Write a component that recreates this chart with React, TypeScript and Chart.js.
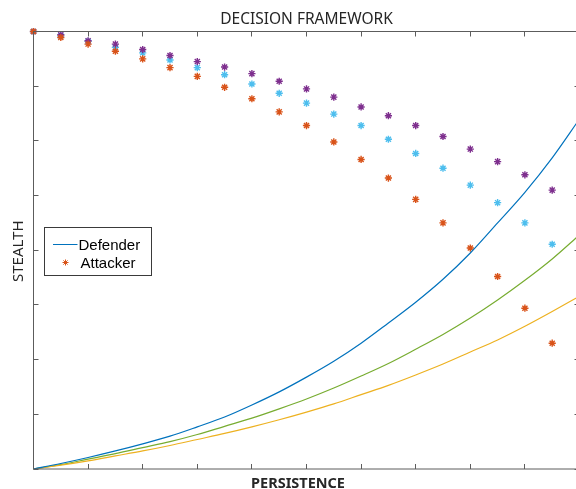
import { useEffect, useRef } from "react";
import { Chart, registerables } from "chart.js";

Chart.register(...registerables);

// ---- data ----
const persistence = [0, 1, 2, 3, 4, 5, 6, 7, 8, 9, 10, 11, 12, 13, 14, 15, 16, 17, 18, 19, 20];
const defenderBlue = [0, 0.10, 0.21, 0.33, 0.46, 0.60, 0.77, 0.95, 1.17, 1.41, 1.68, 1.97, 2.30, 2.67, 3.05, 3.47, 3.95, 4.50, 5.06, 5.69, 6.40];
const defenderGreen = [0, 0.08, 0.18, 0.28, 0.39, 0.50, 0.63, 0.78, 0.93, 1.10, 1.28, 1.48, 1.70, 1.93, 2.19, 2.46, 2.76, 3.09, 3.45, 3.84, 4.28];
const defenderYellow = [0, 0.07, 0.15, 0.24, 0.33, 0.43, 0.54, 0.65, 0.77, 0.90, 1.04, 1.19, 1.36, 1.53, 1.72, 1.92, 2.14, 2.36, 2.61, 2.88, 3.16];

const markerPersistence = [0, 1, 2, 3, 4, 5, 6, 7, 8, 9, 10, 11, 12, 13, 14, 15, 16, 17, 18, 19];
const attackerOrange = [8.00, 7.89, 7.77, 7.64, 7.50, 7.34, 7.18, 6.98, 6.77, 6.53, 6.28, 5.98, 5.66, 5.32, 4.93, 4.50, 4.04, 3.52, 2.94, 2.30];
const attackerPurple = [8.00, 7.94, 7.83, 7.77, 7.67, 7.56, 7.45, 7.35, 7.23, 7.09, 6.95, 6.80, 6.62, 6.46, 6.28, 6.08, 5.85, 5.62, 5.38, 5.10];
const attackerCyan = [8.00, 7.92, 7.82, 7.71, 7.61, 7.48, 7.34, 7.21, 7.04, 6.87, 6.69, 6.49, 6.28, 6.03, 5.77, 5.50, 5.19, 4.87, 4.50, 4.11];

const xTicks = [0, 2, 4, 6, 8, 10, 12, 14, 16, 18, 20];
const yTicks = [0, 1, 2, 3, 4, 5, 6, 7, 8];

const TITLE = "DECISION FRAMEWORK";
const X_LABEL = "PERSISTENCE";
const Y_LABEL = "STEALTH";
const LEGEND_LABELS = ["Defender", "Attacker"];

const BLUE = "#0072BD";
const ORANGE = "#D95319";
const YELLOW = "#EDB120";
const PURPLE = "#7E2F8E";
const GREEN = "#77AC30";
const CYAN = "#4DBEEE";

const toXY = (xs: number[], ys: number[]) => ys.map((v, i) => ({ x: xs[i], y: v }));

const snap = (v: number) => Math.round(v - 0.5) + 0.5;

const framePlugin = {
  id: "matlabFrame",
  afterDatasetsDraw(chart: any) {
    const { ctx, chartArea: a, scales } = chart;
    const xs = scales.x;
    const ys = scales.y;
    ctx.save();
    ctx.strokeStyle = "#5c5c5c";
    ctx.lineWidth = 1;
    ctx.beginPath();
    ctx.rect(a.left, a.top, a.right - a.left, a.bottom - a.top);
    ctx.stroke();
    const tl = 5;
    ctx.beginPath();
    xTicks.forEach((t) => {
      const px = snap(xs.getPixelForValue(t));
      ctx.moveTo(px, a.bottom);
      ctx.lineTo(px, a.bottom - tl);
      ctx.moveTo(px, a.top);
      ctx.lineTo(px, a.top + tl);
    });
    yTicks.forEach((t) => {
      const py = snap(ys.getPixelForValue(t));
      ctx.moveTo(a.left, py);
      ctx.lineTo(a.left + tl, py);
      ctx.moveTo(a.right, py);
      ctx.lineTo(a.right - tl, py);
    });
    ctx.stroke();

    // texts
    const cx = (a.left + a.right) / 2;
    const cy = (a.top + a.bottom) / 2;
    ctx.fillStyle = "#262626";
    ctx.textAlign = "center";
    ctx.textBaseline = "alphabetic";
    ctx.font = '15.5px "Noto Sans"';
    ctx.fillText(TITLE, cx, 24);
    ctx.font = 'bold 14.5px "Noto Sans"';
    ctx.fillText(X_LABEL, 298, 488);
    ctx.save();
    ctx.translate(23, cy + 1);
    ctx.rotate(-Math.PI / 2);
    ctx.font = '15px "Noto Sans"';
    ctx.fillText(Y_LABEL, 0, 0);
    ctx.restore();

    // legend
    const lx = 44.5, ly = 227.5, lw = 107, lh = 48;
    ctx.fillStyle = "#ffffff";
    ctx.fillRect(lx, ly, lw, lh);
    ctx.strokeStyle = "#3a3a3a";
    ctx.lineWidth = 1;
    ctx.strokeRect(lx, ly, lw, lh);
    ctx.strokeStyle = BLUE;
    ctx.lineWidth = 1;
    ctx.beginPath();
    ctx.moveTo(53, 244.5);
    ctx.lineTo(77.5, 244.5);
    ctx.stroke();
    // asterisk marker
    const mx = 65.5, my = 262.5, r = 3;
    ctx.strokeStyle = ORANGE;
    ctx.beginPath();
    ctx.moveTo(mx - r, my); ctx.lineTo(mx + r, my);
    ctx.moveTo(mx, my - r); ctx.lineTo(mx, my + r);
    const d = r * 0.7;
    ctx.moveTo(mx - d, my - d); ctx.lineTo(mx + d, my + d);
    ctx.moveTo(mx - d, my + d); ctx.lineTo(mx + d, my - d);
    ctx.stroke();
    ctx.fillStyle = "#000000";
    ctx.textAlign = "left";
    ctx.font = '15px "Liberation Sans"';
    ctx.fillText(LEGEND_LABELS[0], 78.5, 249.5);
    ctx.fillText(LEGEND_LABELS[1], 80.5, 267.5);
    ctx.restore();
  },
};

export default function App() {
  const ref = useRef<HTMLCanvasElement | null>(null);
  useEffect(() => {
    if (!ref.current) return;
    const lineDs = (label: string, data: number[], color: string) => ({
      type: "line" as const,
      label,
      data: toXY(persistence, data),
      borderColor: color,
      backgroundColor: color,
      borderWidth: 1.2,
      pointRadius: 0,
      fill: false,
      cubicInterpolationMode: "monotone" as const,
      clip: false as any,
    });
    const markerDs = (label: string, data: number[], color: string) => ({
      type: "scatter" as const,
      label,
      data: toXY(markerPersistence, data),
      borderColor: color,
      backgroundColor: color,
      pointStyle: "star" as const,
      pointRadius: 3.6,
      pointBorderWidth: 1.4,
      showLine: false,
      clip: false as any,
    });
    const chart = new Chart(ref.current, {
      type: "scatter",
      data: {
        datasets: [
          lineDs("Defender", defenderBlue, BLUE),
          markerDs("Attacker", attackerOrange, ORANGE),
          lineDs("Defender 2", defenderYellow, YELLOW),
          markerDs("Attacker 2", attackerPurple, PURPLE),
          lineDs("Defender 3", defenderGreen, GREEN),
          markerDs("Attacker 3", attackerCyan, CYAN),
        ] as any,
      },
      options: {
        animation: false,
        responsive: false,
        devicePixelRatio: 1,
        layout: { padding: { left: 33.5, top: 31.5, right: 10.5, bottom: 20 } },
        scales: {
          x: { type: "linear", min: 0, max: 20, display: false },
          y: { type: "linear", min: 0, max: 8, display: false },
        },
        plugins: {
          legend: { display: false },
          title: { display: false },
          tooltip: { enabled: false },
        },
      },
      plugins: [framePlugin],
    });
    return () => chart.destroy();
  }, []);
  return (
    <div style={{ position: "fixed", left: 0, top: 0, width: 576, height: 489, overflow: "hidden", background: "#fff" }}>
      <canvas ref={ref} width={590} height={489} style={{ width: 590, height: 489, display: "block" }} />
    </div>
  );
}
